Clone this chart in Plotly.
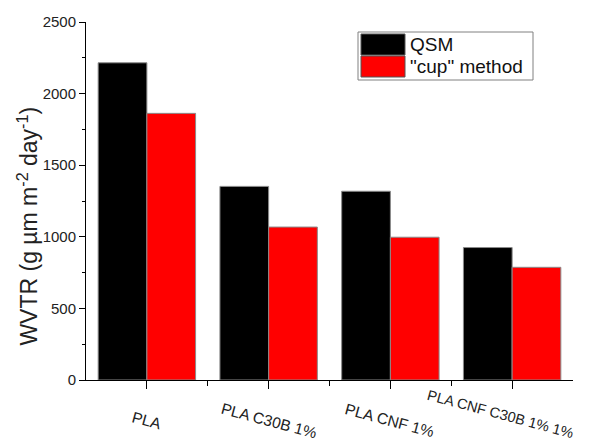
import plotly.graph_objects as go

categories = ["PLA", "PLA C30B 1%", "PLA CNF 1%", "PLA CNF C30B 1% 1%"]
series_names = ["QSM", "\"cup\" method"]
series_colors = ["#000000", "#ff0000"]
qsm = [2215, 1352, 1318, 925]
cup = [1862, 1068, 997, 787]
series_values = [qsm, cup]
y_ticks = [0, 500, 1000, 1500, 2000, 2500]

FONT = "Liberation Sans, Arial, sans-serif"
xpos = list(range(len(categories)))

fig = go.Figure()
for name, color, vals in zip(series_names, series_colors, series_values):
    fig.add_trace(go.Bar(
        x=xpos, y=vals, name=name,
        marker=dict(color=color, line=dict(color="#8a8a8a", width=1)),
        showlegend=False,
    ))

fig.update_layout(
    width=590, height=442,
    margin=dict(l=86, r=17, t=22, b=62),
    paper_bgcolor="white", plot_bgcolor="white",
    barmode="group", bargap=0.2, bargroupgap=0,
    font=dict(family=FONT, color="#000000"),
)
fig.update_xaxes(
    range=[-0.5, 3.5], tickvals=xpos, showticklabels=False,
    showline=True, linecolor="black", linewidth=1,
    ticks="outside", ticklen=8, tickcolor="black",
    minor=dict(tickvals=[0.5, 1.5, 2.5], ticks="outside", ticklen=5, tickcolor="black"),
    showgrid=False, zeroline=False,
)
fig.update_yaxes(
    range=[0, 2500], tickvals=y_ticks,
    showline=True, linecolor="black", linewidth=1,
    ticks="outside", ticklen=6, tickcolor="black",
    minor=dict(dtick=250, ticks="outside", ticklen=3, tickcolor="black"),
    tickfont=dict(size=15, family=FONT, color="#222222"),
    showgrid=False, zeroline=False,
)

# y-axis title
fig.add_annotation(
    text="WVTR (g µm m<sup>-2</sup> day<sup>-1</sup>)",
    xref="paper", yref="paper", x=-0.12, y=0.43,
    textangle=-90, showarrow=False,
    font=dict(size=23, family=FONT, color="#222222"),
    xanchor="center", yanchor="middle",
)

# category labels
n = len(categories)
for i, cat in enumerate(categories):
    last = i == n - 1
    fig.add_annotation(
        text=cat, x=i, xref="x", y=-0.112, yref="paper",
        textangle=15, showarrow=False,
        xshift=(-12 if last else 0), yshift=(6 if last else 0),
        font=dict(size=(14.5 if last else 15.5), family=FONT, color="#222222"),
        xanchor="center", yanchor="middle",
    )

# legend box
def px_x(p):
    return (p - 86) / 487
def px_y(p):
    return (380 - p) / 358

fig.add_shape(type="rect", xref="paper", yref="paper",
              x0=px_x(358), x1=px_x(533), y0=px_y(80), y1=px_y(32),
              line=dict(color="#808080", width=1), fillcolor="white")
row_tops = [34, 56]
for name, color, top in zip(series_names, series_colors, row_tops):
    fig.add_shape(type="rect", xref="paper", yref="paper",
                  x0=px_x(361), x1=px_x(405), y0=px_y(top + 21), y1=px_y(top),
                  line=dict(color="#555555", width=1), fillcolor=color)
    fig.add_annotation(text=name, xref="paper", yref="paper",
                       x=px_x(408), y=px_y(top + 10.5), showarrow=False,
                       xanchor="left", yanchor="middle",
                       font=dict(size=19, family=FONT, color="#111111"))

fig.write_html("out.html")
